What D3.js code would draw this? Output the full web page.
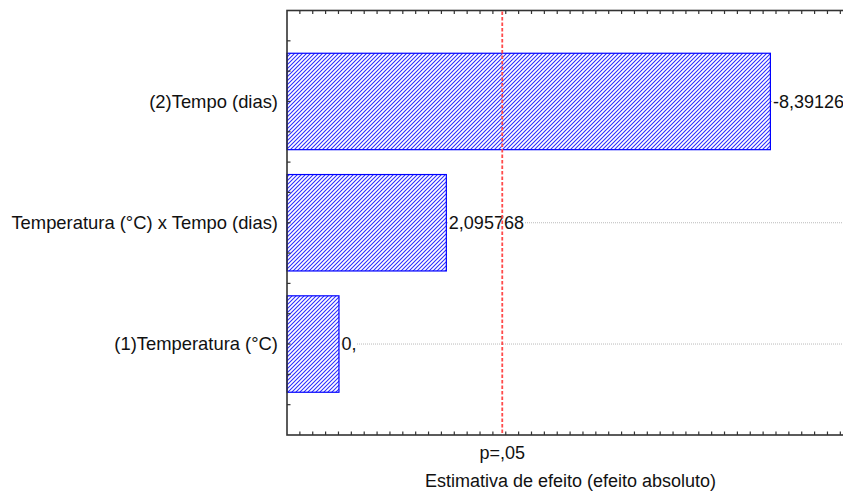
<!DOCTYPE html>
<html>
<head>
<meta charset="utf-8">
<script src="https://cdn.jsdelivr.net/npm/d3@7"></script>
<style>
  html, body { margin: 0; padding: 0; background: #fff; }
  svg { display: block; font-family: "Liberation Sans", Arial, sans-serif; }
</style>
</head>
<body>
<svg id="chart" width="843" height="494"></svg>
<script>
// Pareto chart of standardized effects
const effects = ["(2)Tempo (dias)", "Temperatura (°C) x Tempo (dias)", "(1)Temperatura (°C)"];
const effectValues = [8.39126, 2.095768, 0.01];
const valueLabels = ["-8,39126", "2,095768", "0,"];
const pCritical = 3.182;
const pLabel = "p=,05";
const xTitle = "Estimativa de efeito (efeito absoluto)";

const svg = d3.select("#chart");
const plot = { left: 287, top: 10.5, bottom: 435, right: 853.2 };

const x = d3.scaleLinear().domain([-1, 10]).range([plot.left, plot.right]);
const y = d3.scalePoint().domain(effects).range([plot.top, plot.bottom]).padding(0.75);
const barH = y.step() * 0.795;

// hatch fill for the bars
const defs = svg.append("defs");
const pat = defs.append("pattern")
  .attr("id", "hatch").attr("patternUnits", "userSpaceOnUse")
  .attr("width", 4).attr("height", 4);
pat.append("rect").attr("width", 4).attr("height", 4).attr("fill", "#fff");
pat.append("path")
  .attr("d", "M-1,1 l2,-2 M0,4 l4,-4 M3,5 l2,-2")
  .attr("stroke", "#2a2aff").attr("stroke-width", 1.05);

const clip = defs.append("clipPath").attr("id", "plotclip");
clip.append("rect").attr("x", plot.left).attr("y", plot.top)
  .attr("width", plot.right - plot.left).attr("height", plot.bottom - plot.top);

// dotted guide lines at each effect
svg.append("g").selectAll("line").data(effects).join("line")
  .attr("x1", plot.left).attr("x2", plot.right)
  .attr("y1", d => y(d)).attr("y2", d => y(d))
  .attr("stroke", "#a8a8a8").attr("stroke-width", 0.8)
  .attr("stroke-dasharray", "1,1");

// bars
svg.append("g").selectAll("rect").data(effects).join("rect")
  .attr("x", x(-1))
  .attr("y", d => y(d) - barH / 2)
  .attr("width", (d, i) => x(effectValues[i]) - x(-1))
  .attr("height", barH)
  .attr("fill", "url(#hatch)")
  .attr("stroke", "#0000ff").attr("stroke-width", 1.2);

// value labels with a white backing
const lab = svg.append("g").attr("clip-path", "url(#plotclip)")
  .selectAll("g").data(effects).join("g")
  .attr("transform", (d, i) => `translate(${x(effectValues[i]) + 2.5},${y(d)})`);
lab.append("text")
  .attr("dy", "0.35em").attr("font-size", 18).attr("fill", "#111")
  .text((d, i) => valueLabels[i]);
lab.each(function () {
  const g = d3.select(this);
  const bb = g.select("text").node().getBBox();
  g.insert("rect", "text").attr("x", bb.x).attr("y", bb.y + 2)
    .attr("width", bb.width).attr("height", bb.height - 4).attr("fill", "#fff");
});

// category labels
svg.append("g").selectAll("text").data(effects).join("text")
  .attr("x", 278).attr("y", d => y(d)).attr("dy", "0.35em")
  .attr("text-anchor", "end").attr("font-size", 18.4).attr("fill", "#111")
  .text(d => d);

// minor ticks on all frame sides
const xTicks = d3.range(-0.75, 10, 0.25);
const yTicks = d3.range(1, 14).map(k => plot.top + k * (plot.bottom - plot.top) / 14);
const tk = svg.append("g").attr("stroke", "#333").attr("stroke-width", 1.2);
tk.selectAll(".tb").data(xTicks).join("line").attr("class", "tb")
  .attr("x1", d => x(d)).attr("x2", d => x(d))
  .attr("y1", plot.bottom).attr("y2", plot.bottom - 3.5);
tk.selectAll(".tt").data(xTicks).join("line").attr("class", "tt")
  .attr("x1", d => x(d)).attr("x2", d => x(d))
  .attr("y1", plot.top).attr("y2", plot.top + 3.5);
tk.selectAll(".tl").data(yTicks).join("line").attr("class", "tl")
  .attr("x1", plot.left).attr("x2", plot.left + 3.5)
  .attr("y1", d => d).attr("y2", d => d);

// frame
svg.append("rect")
  .attr("x", plot.left).attr("y", plot.top)
  .attr("width", plot.right - plot.left).attr("height", plot.bottom - plot.top)
  .attr("fill", "none").attr("stroke", "#333").attr("stroke-width", 1.6);

// significance threshold
svg.append("line")
  .attr("x1", x(pCritical)).attr("x2", x(pCritical))
  .attr("y1", plot.top + 1).attr("y2", plot.bottom - 1)
  .attr("stroke", "#ff4a4a").attr("stroke-width", 1.8)
  .attr("stroke-dasharray", "3.5,2");

svg.append("text")
  .attr("x", x(pCritical)).attr("y", 459)
  .attr("text-anchor", "middle").attr("font-size", 18).attr("fill", "#111")
  .text(pLabel);

svg.append("text")
  .attr("x", 570.5).attr("y", 486.5)
  .attr("text-anchor", "middle").attr("font-size", 18).attr("fill", "#111")
  .text(xTitle);
</script>
</body>
</html>
